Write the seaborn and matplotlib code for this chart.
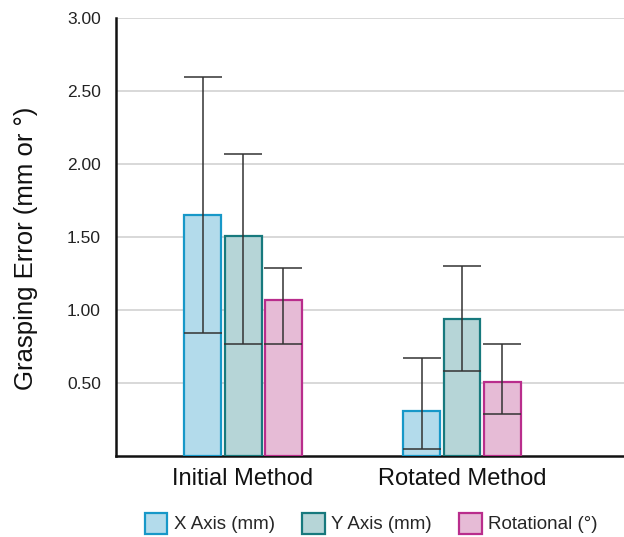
import matplotlib
matplotlib.use("Agg")
import matplotlib.pyplot as plt
import numpy as np
import pandas as pd
import seaborn as sns

# values
methods = ["Initial Method", "Rotated Method"]
series = ["X Axis (mm)", "Y Axis (mm)", "Rotational (°)"]
x_axis = [1.65, 0.31]
y_axis = [1.51, 0.94]
rotational = [1.07, 0.51]
# error bar ends (low, high)
x_low = [0.84, 0.05]
x_high = [2.60, 0.67]
y_low = [0.77, 0.58]
y_high = [2.07, 1.30]
rot_low = [0.77, 0.29]
rot_high = [1.29, 0.77]
y_ticks = [0.5, 1.0, 1.5, 2.0, 2.5, 3.0]

fills = ["#b3dbeb", "#b6d5d7", "#e6bbd6"]
edges = ["#1798c8", "#17797d", "#b92d8c"]

df = pd.DataFrame({
    "method": methods * 3,
    "series": [s for s in series for _ in methods],
    "value": x_axis + y_axis + rotational,
    "low": x_low + y_low + rot_low,
    "high": x_high + y_high + rot_high,
})

sns.set_style("white")
plt.rcParams["font.family"] = ["Liberation Sans", "DejaVu Sans"]

fig = plt.figure(figsize=(6.24, 5.37), dpi=100)
ax = fig.add_axes([0.186, 0.151, 0.814, 0.815])

sns.barplot(data=df, x="method", y="value", hue="series", hue_order=series,
            order=methods, palette=fills, saturation=1, width=0.55, gap=0.08,
            errorbar=None, ax=ax, legend=False, zorder=3)

# color edges and add error bars at the bar centers
bars = ax.patches[:6]
for i, bar in enumerate(bars):
    s = i // 2
    bar.set_edgecolor(edges[s])
    bar.set_linewidth(1.6)
    row = df.iloc[i]
    cx = bar.get_x() + bar.get_width() / 2
    ax.errorbar(cx, row["value"],
                yerr=[[row["value"] - row["low"]], [row["high"] - row["value"]]],
                fmt="none", ecolor="#333333", elinewidth=1.1, capsize=14,
                capthick=1.1, zorder=4)

ax.set_ylim(0, 3.0)
ax.set_xlim(-0.58, 1.74)
ax.set_yticks(y_ticks)
ax.set_yticklabels(["{:.2f}".format(t) for t in y_ticks], fontsize=12.5, color="#222222")
ax.tick_params(axis="x", labelsize=17, length=0, pad=9, colors="#111111")
ax.tick_params(axis="y", length=0, pad=11)
ax.yaxis.grid(True, color="#d6d6d6", linewidth=1.3, zorder=0)
ax.set_axisbelow(True)
ax.set_xlabel("")
ax.set_ylabel("Grasping Error (mm or °)", fontsize=18.5, labelpad=21, color="#111111")
ax.yaxis.label.set_y(0.474)

for side in ["top", "right"]:
    ax.spines[side].set_visible(False)
ax.spines["left"].set_linewidth(1.8)
ax.spines["bottom"].set_linewidth(1.8)
ax.spines["left"].set_color("#111111")
ax.spines["bottom"].set_color("#111111")

handles = [matplotlib.patches.Patch(facecolor=fills[k], edgecolor=edges[k], linewidth=1.6)
           for k in range(3)]
fig.legend(handles, series, loc="lower center", bbox_to_anchor=(0.595, -0.025), ncol=3,
           frameon=False, fontsize=13.5, handlelength=1.2, handleheight=1.35,
           columnspacing=1.45, handletextpad=0.35)

plt.savefig("out.png", dpi=100)
